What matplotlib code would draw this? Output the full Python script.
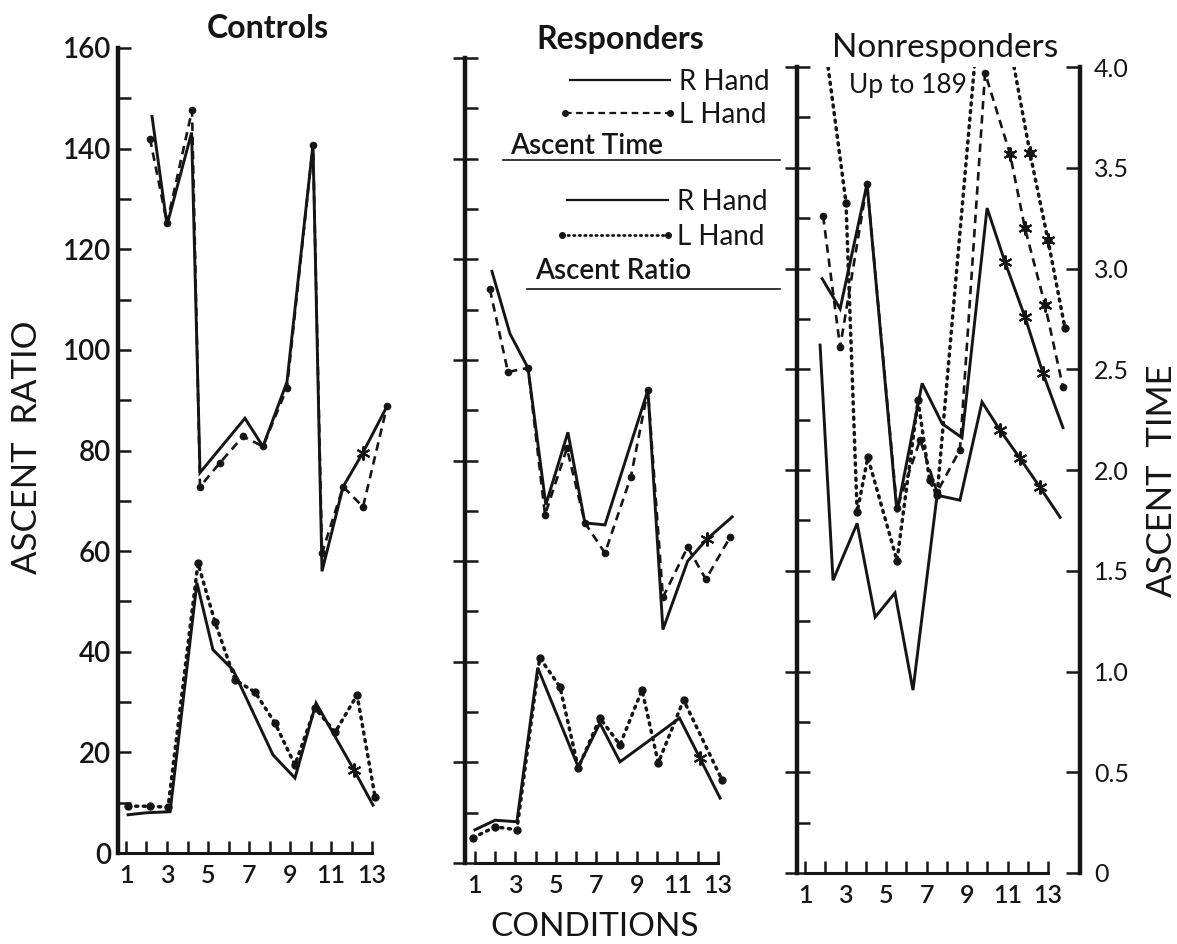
import matplotlib.pyplot as plt
from matplotlib.lines import Line2D

W, H = 1177, 944
INK = "#151515"

plt.rcParams["font.family"] = ["Lato", "DejaVu Sans"]

# x values are condition positions as drawn (hand plotted, slightly irregular)
# ascent time in seconds (right axis), ascent ratio on the left axis

# ---- Controls
ctrl_time_r_x = [2.27, 3.0, 4.2, 4.61, 6.8, 7.68, 8.85, 10.12, 10.56, 11.59, 12.56, 13.73]
ctrl_time_r = [3.66, 3.12, 3.58, 1.89, 2.16, 2.02, 2.34, 3.52, 1.40, 1.82, 1.99, 2.22]
ctrl_time_r_star = [10]
ctrl_time_l_x = [2.17, 3.0, 4.22, 4.61, 5.59, 6.71, 7.68, 8.85, 10.12, 10.56, 11.59, 12.56, 13.73]
ctrl_time_l = [3.55, 3.13, 3.69, 1.82, 1.94, 2.07, 2.02, 2.31, 3.52, 1.49, 1.82, 1.72, 2.22]

ctrl_ratio_r_x = [1.1, 2.0, 3.15, 4.46, 5.24, 6.22, 8.17, 9.24, 10.27, 12.12, 13.05]
ctrl_ratio_r = [7.6, 8.0, 8.2, 53.7, 40.4, 36.4, 19.5, 14.9, 29.8, 16.5, 9.5]
ctrl_ratio_r_star = [9]
ctrl_ratio_l_x = [1.1, 2.17, 3.05, 4.51, 5.34, 6.32, 7.29, 8.27, 9.24, 10.22, 11.2, 12.27, 13.15]
ctrl_ratio_l = [9.3, 9.3, 9.1, 57.6, 45.9, 34.4, 32.0, 25.8, 17.5, 28.8, 24.0, 31.4, 11.1]

# ---- Responders
resp_time_r_x = [1.84, 2.73, 3.62, 4.5, 5.59, 6.43, 7.42, 9.54, 10.28, 11.5, 12.46, 13.7]
resp_time_r = [2.94, 2.63, 2.46, 1.78, 2.14, 1.69, 1.68, 2.35, 1.16, 1.50, 1.61, 1.72]
resp_time_r_star = [10]
resp_time_l_x = [1.74, 2.63, 3.62, 4.46, 5.54, 6.43, 7.42, 8.7, 9.54, 10.28, 11.5, 12.4, 13.6]
resp_time_l = [2.85, 2.44, 2.46, 1.73, 2.06, 1.69, 1.54, 1.92, 2.35, 1.32, 1.57, 1.41, 1.62]

resp_ratio_r_x = [1.0, 2.0, 3.07, 4.1, 6.1, 7.17, 8.16, 9.79, 11.1, 12.1, 13.1]
resp_ratio_r = [6.6, 8.5, 8.2, 38.8, 19.1, 27.8, 20.1, 24.9, 28.8, 20.9, 12.9]
resp_ratio_r_star = [9]
resp_ratio_l_x = [0.9, 2.0, 3.07, 4.2, 5.2, 6.1, 7.17, 8.16, 9.25, 10.05, 11.3, 13.2]
resp_ratio_l = [5.0, 7.2, 6.6, 40.8, 35.0, 18.9, 28.8, 23.5, 34.4, 19.9, 32.4, 16.5]

# ---- Nonresponders
non_time_r_x = [1.84, 2.73, 4.06, 5.54, 6.78, 7.77, 8.75, 9.99, 10.88, 11.86, 12.75, 13.74]
non_time_r = [2.95, 2.80, 3.42, 1.79, 2.43, 2.23, 2.16, 3.30, 3.03, 2.76, 2.48, 2.21]
non_time_r_star = [8, 9, 10]
non_time_l_x = [1.89, 2.73, 4.06, 5.54, 6.68, 7.52, 8.65, 9.89, 11.12, 11.86, 12.85, 13.74]
non_time_l = [3.26, 2.61, 3.42, 1.81, 2.15, 1.89, 2.10, 3.97, 3.57, 3.20, 2.82, 2.41]
non_time_l_star = [8, 9, 10]

non_ratio_r_x = [1.74, 2.38, 3.57, 4.46, 5.44, 6.33, 7.52, 8.65, 9.74, 10.63, 11.62, 12.6, 13.6]
non_ratio_r = [104.8, 58.1, 69.4, 50.8, 55.6, 36.3, 75.0, 74.0, 93.5, 87.9, 82.3, 76.6, 70.6]
non_ratio_r_star = [9, 10, 11]
non_ratio_l_x = [1.84, 3.02, 3.57, 4.1, 5.54, 6.58, 7.15, 7.52, 9.99, 12.11, 13.0, 13.84]
non_ratio_l = [169.0, 133.1, 71.6, 82.5, 62.0, 93.8, 78.0, 75.0, 189.0, 142.9, 125.6, 108.1]
non_ratio_l_star = [9, 10]

cond_ticks = list(range(1, 14))
cond_labels = [str(c) if c % 2 else "" for c in cond_ticks]
ratio_major = list(range(0, 161, 20))
ratio_minor = list(range(10, 160, 20))
time_ticks = [0, 0.5, 1.0, 1.5, 2.0, 2.5, 3.0, 3.5, 4.0]
time_labels = ["0", "0.5", "1.0", "1.5", "2.0", "2.5", "3.0", "3.5", "4.0"]


def box(x0, x1, y_top, y_bot):
    return [x0 / W, 1 - y_bot / H, (x1 - x0) / W, (y_bot - y_top) / H]


def fx(x):
    return x / W


def fy(y):
    return 1 - y / H


def setup_panel(ax, xlim, labelled, bottom_start):
    ax.set_xlim(*xlim)
    ax.set_ylim(0, 160)
    ax.patch.set_alpha(0)
    for s in ["top", "right"]:
        ax.spines[s].set_visible(False)
    ax.spines["left"].set_linewidth(3.2)
    ax.spines["left"].set_color(INK)
    ax.spines["bottom"].set_linewidth(2.2)
    ax.spines["bottom"].set_color(INK)
    ax.spines["bottom"].set_bounds(bottom_start, 13)
    ax.set_xticks(cond_ticks)
    ax.set_xticklabels(cond_labels)
    ax.tick_params(axis="x", direction="in", length=9, width=1.8, pad=8,
                   labelsize=18, colors=INK)
    for lab in ax.get_xticklabels():
        lab.set_fontweight(600)
    ax.set_yticks(ratio_major)
    ax.set_yticks(ratio_minor, minor=True)
    if labelled:
        ax.tick_params(axis="y", which="both", direction="in", length=9, width=1.8,
                       pad=5, labelsize=20, colors=INK)
        for lab in ax.get_yticklabels():
            lab.set_fontweight(600)
    else:
        ax.tick_params(axis="y", which="major", direction="inout", length=18, width=1.8,
                       labelleft=False, colors=INK)
        ax.tick_params(axis="y", which="minor", direction="in", length=9, width=1.8,
                       colors=INK)


def draw_r(ax, x, y, stars=()):
    ax.plot(x, y, color=INK, lw=2.1, solid_joinstyle="miter")
    if stars:
        ax.plot([x[i] for i in stars], [y[i] for i in stars], ls="none",
                marker=(6, 2, 0), ms=10, mew=1.5, color=INK)


def draw_l(ax, x, y, style, stars=()):
    if style == "dashed":
        ax.plot(x, y, color=INK, lw=1.9, ls=(0, (3.2, 2.2)), marker="o", ms=4.5)
    else:
        ax.plot(x, y, color=INK, lw=2.5, ls=(0, (0.6, 1.6)), dash_capstyle="round",
                marker="o", ms=5)
    if stars:
        ax.plot([x[i] for i in stars], [y[i] for i in stars], ls="none",
                marker=(6, 2, 0), ms=10, mew=1.5, color=INK)


fig = plt.figure(figsize=(W / 100, H / 100), dpi=100)

# ---- Controls
ax1 = fig.add_axes(box(118, 395, 48, 853))
setup_panel(ax1, (0.61, 14.12), True, 0.61)
t1 = ax1.twinx()
t1.set_ylim(0, 4)
t1.axis("off")
draw_r(t1, ctrl_time_r_x, ctrl_time_r, ctrl_time_r_star)
draw_l(t1, ctrl_time_l_x, ctrl_time_l, "dashed")
draw_r(ax1, ctrl_ratio_r_x, ctrl_ratio_r, ctrl_ratio_r_star)
draw_l(ax1, ctrl_ratio_l_x, ctrl_ratio_l, "dotted")

# ---- Responders
ax2 = fig.add_axes(box(465, 780, 58, 863))
setup_panel(ax2, (0.51, 16.06), False, 1)
t2 = ax2.twinx()
t2.set_ylim(0, 4)
t2.axis("off")
draw_r(t2, resp_time_r_x, resp_time_r, resp_time_r_star)
draw_l(t2, resp_time_l_x, resp_time_l, "dashed")
draw_r(ax2, resp_ratio_r_x, resp_ratio_r, resp_ratio_r_star)
draw_l(ax2, resp_ratio_l_x, resp_ratio_l, "dotted")

# ---- Nonresponders
ax3 = fig.add_axes(box(797, 1080, 67, 873))
setup_panel(ax3, (0.6, 14.58), False, 1)
t3 = ax3.twinx()
t3.set_ylim(0, 4)
for s in ["top", "left", "bottom"]:
    t3.spines[s].set_visible(False)
t3.spines["right"].set_linewidth(3.2)
t3.spines["right"].set_color(INK)
t3.set_yticks(time_ticks)
t3.set_yticklabels(time_labels)
t3.tick_params(axis="y", direction="in", length=10, width=1.8, pad=10,
               labelsize=18, colors=INK)
draw_r(t3, non_time_r_x, non_time_r, non_time_r_star)
draw_l(t3, non_time_l_x, non_time_l, "dashed", non_time_l_star)
draw_r(ax3, non_ratio_r_x, non_ratio_r, non_ratio_r_star)
draw_l(ax3, non_ratio_l_x, non_ratio_l, "dotted", non_ratio_l_star)

# ---- titles and axis names
fig.text(fx(268), fy(28), "Controls", ha="center", va="center", fontsize=23,
         fontweight="bold", color=INK)
fig.text(fx(620), fy(40), "Responders", ha="center", va="center", fontsize=23,
         fontweight="bold", color=INK)
fig.text(fx(945), fy(48), "Nonresponders", ha="center", va="center", fontsize=24,
         color=INK)
fig.text(fx(908), fy(86), "Up to 189", ha="center", va="center", fontsize=19,
         color=INK)
fig.text(fx(27), fy(447), "ASCENT  RATIO", rotation=90, ha="center", va="center",
         fontsize=25, color=INK)
fig.text(fx(1162), fy(481), "ASCENT  TIME", rotation=90, ha="center", va="center",
         fontsize=25, color=INK)
fig.text(fx(595), fy(927), "CONDITIONS", ha="center", va="center", fontsize=24,
         color=INK)


# ---- legend (drawn by hand in the responders panel)
def legend_row(x0, x1, y, label, kind):
    if kind == "solid":
        ln = Line2D([fx(x0), fx(x1)], [fy(y), fy(y)], color=INK, lw=1.6)
    elif kind == "dashed":
        ln = Line2D([fx(x0), fx(x1)], [fy(y), fy(y)], color=INK, lw=1.6,
                    ls=(0, (3, 2)), marker="o", ms=4, markevery=[0, 1])
    else:
        ln = Line2D([fx(x0), fx(x1)], [fy(y), fy(y)], color=INK, lw=2.0,
                    ls=(0, (0.5, 1.5)), dash_capstyle="round", marker="o", ms=4,
                    markevery=[0, 1])
    ln.set_transform(fig.transFigure)
    fig.add_artist(ln)
    fig.text(fx(x1 + 9), fy(y + 2), label, ha="left", va="center", fontsize=20,
             color=INK)


def legend_head(x_text, y_text, x0, x1, y_line, label):
    fig.text(fx(x_text), fy(y_text), label, ha="left", va="center", fontsize=20,
             fontweight=600, color=INK)
    ln = Line2D([fx(x0), fx(x1)], [fy(y_line), fy(y_line)], color=INK, lw=1.2)
    ln.set_transform(fig.transFigure)
    fig.add_artist(ln)


legend_row(570, 670, 80, "R Hand", "solid")
legend_row(565, 670, 113, "L Hand", "dashed")
legend_head(510, 146, 503, 780, 160, "Ascent Time")
legend_row(567, 668, 200, "R Hand", "solid")
legend_row(562, 668, 235, "L Hand", "dotted")
legend_head(535, 271, 527, 780, 289, "Ascent Ratio")

fig.savefig("out.png", dpi=100)
